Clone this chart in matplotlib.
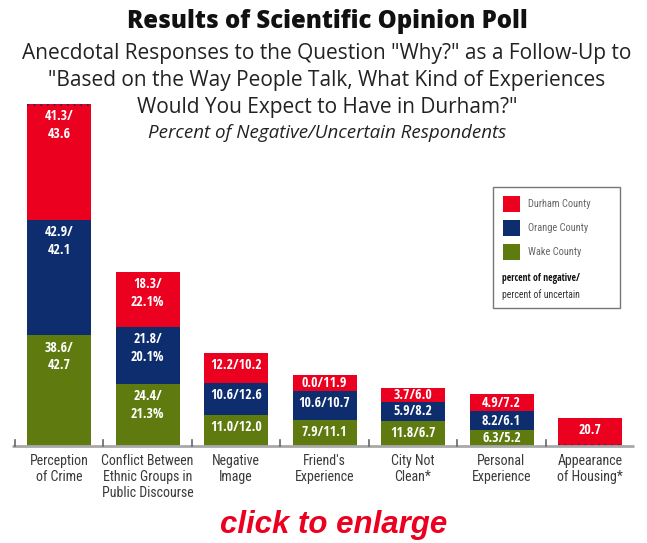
import numpy as np
import matplotlib
matplotlib.use("Agg")
import matplotlib.pyplot as plt
from matplotlib.patches import Rectangle
from matplotlib import font_manager

categories = ["Perception\nof Crime", "Conflict Between\nEthnic Groups in\nPublic Discourse",
              "Negative\nImage", "Friend's\nExperience", "City Not\nClean*",
              "Personal\nExperience", "Appearance\nof Housing*"]
series = ["Wake County", "Orange County", "Durham County"]
# percent of negative / percent of uncertain
wake_neg = [38.6, 24.4, 11.0, 7.9, 11.8, 6.3, np.nan]
wake_unc = [42.7, 21.3, 12.0, 11.1, 6.7, 5.2, np.nan]
orange_neg = [42.9, 21.8, 10.6, 10.6, 5.9, 8.2, np.nan]
orange_unc = [42.1, 20.1, 12.6, 10.7, 8.2, 6.1, np.nan]
durham_neg = [41.3, 18.3, 12.2, 0.0, 3.7, 4.9, np.nan]
durham_unc = [43.6, 22.1, 10.2, 11.9, 6.0, 7.2, 20.7]

colors = {"Durham County": "#EC0020", "Orange County": "#0E2D6E", "Wake County": "#5F7B10"}

# ---- font selection -------------------------------------------------------
ttf = font_manager.fontManager.ttflist


def is_cond(f):
    return ("Condensed" in f.name or "Narrow" in f.name
            or f.stretch in ("condensed", "semi-condensed", "extra-condensed"))


def wnum(w):
    if isinstance(w, int):
        return w
    return {"normal": 400, "regular": 400, "book": 400, "light": 300, "medium": 500,
            "bold": 700, "semibold": 600, "demibold": 600}.get(str(w).lower(), 400)


cond = [f for f in ttf if is_cond(f)]
pref = ["Liberation Sans Narrow", "DejaVu Sans Condensed", "Open Sans Condensed",
        "Roboto Condensed", "Noto Sans Condensed"]


def pick_cond(lo, hi):
    cands = [f for f in cond if lo <= wnum(f.weight) <= hi]
    names = sorted({f.name for f in cands}, key=lambda n: (pref.index(n) if n in pref else 99, n))
    return names[0] if names else None


REG_NAME = pick_cond(300, 450)
BOLD_NAME = pick_cond(600, 800)
NARROW_REG = [REG_NAME or "DejaVu Sans", "DejaVu Sans"]
NARROW_BOLD = [BOLD_NAME or "DejaVu Sans", "DejaVu Sans"]
NSTRETCH = "condensed"

W, H = 647, 543
fig = plt.figure(figsize=(W / 100, H / 100), dpi=100)


def fx(px):
    return px / W


def fy(py):
    return 1 - py / H


# axes placement
ax_l, ax_r, ax_t, ax_b = 12, 638, 100, 446
ax = fig.add_axes([fx(ax_l), fy(ax_b), (ax_r - ax_l) / W, (ax_b - ax_t) / H])
px_per_unit = 1.36
ax.set_ylim(0, (ax_b - ax_t) / px_per_unit)
spacing = 88.5
x0 = 59
ax.set_xlim((ax_l - x0) / spacing, (ax_r - x0) / spacing)
ax.axis("off")

x = np.arange(len(categories))
data = [("Wake County", wake_neg, wake_unc),
        ("Orange County", orange_neg, orange_unc),
        ("Durham County", durham_neg, durham_unc)]
bottom = np.zeros(len(categories))
u = 1 / px_per_unit
for name, neg, unc in data:
    neg = np.array(neg, dtype=float)
    unc = np.array(unc, dtype=float)
    h = np.nansum(np.vstack([neg, unc]), axis=0)
    ax.bar(x, h, bottom=bottom, width=64 / spacing, color=colors[name], edgecolor="none")
    for i in range(len(categories)):
        if h[i] <= 0:
            continue
        top = bottom[i] + h[i]
        if np.isnan(neg[i]):
            lab = f"{unc[i]:.1f}"
        elif i == 1:
            lab = f"{neg[i]:.1f}/\n{unc[i]:.1f}%"
        elif i == 0:
            lab = f"{neg[i]:.1f}/\n{unc[i]:.1f}"
        else:
            lab = f"{neg[i]:.1f}/{unc[i]:.1f}"
        if "\n" in lab:
            yt = top - 21 * u
        else:
            yt = max(top - 12 * u, bottom[i] + h[i] / 2)
        ax.text(x[i], yt, lab, ha="center", va="center", color="white",
                fontsize=10, fontweight="bold", family=NARROW_BOLD, fontstretch=NSTRETCH,
                linespacing=1.35)
    bottom = bottom + np.nan_to_num(h)

# dotted edges
ax.plot([x[0] - 0.36, x[0] + 0.36], [bottom[0] - 0.5, bottom[0] - 0.5], ls=(0, (1, 3)),
        color="#0E2D6E", lw=1.2)
ax.plot([x[6] - 0.36, x[6] + 0.36], [1.0, 1.0], ls=(0, (1, 3)), color="#0E2D6E", lw=1.2)

# baseline and separator ticks
ax.plot([(ax_l - x0) / spacing, (ax_r - x0) / spacing - 0.05], [0, 0], color="#A8A8A8",
        lw=2, clip_on=False, solid_capstyle="butt")
for k in range(len(categories)):
    ax.plot([k - 0.5, k - 0.5], [0, 6 * u], color="#666666", lw=1.2, clip_on=False)

# category labels
for i, c in enumerate(categories):
    ax.text(x[i], -8 * u, c, ha="center", va="top", fontsize=10, color="#3a3a3a",
            family=NARROW_REG, fontstretch=NSTRETCH, fontweight="normal", linespacing=1.2)

# titles
SANS = ["Open Sans", "DejaVu Sans"]
fig.text(fx(327), fy(21), "Results of Scientific Opinion Poll", ha="center", va="center",
         fontsize=17.3, fontweight=800, family=SANS, color="#111111")
sub = ["Anecdotal Responses to the Question \"Why?\" as a Follow-Up to",
       "\"Based on the Way People Talk, What Kind of Experiences",
       "Would You Expect to Have in Durham?\""]
for k, s in enumerate(sub):
    fig.text(fx(327), fy(53 + 27 * k), s, ha="center", va="center", fontsize=15,
             family=SANS, color="#222222")
fig.text(fx(327), fy(133), "Percent of Negative/Uncertain Respondents", ha="center",
         va="center", fontsize=13.5, style="italic", family=SANS, color="#222222")

# legend
fig.add_artist(Rectangle((fx(493), fy(308)), (620 - 493) / W, (308 - 187) / H,
                         transform=fig.transFigure, facecolor="white", edgecolor="#777777", lw=1))
for k, name in enumerate(["Durham County", "Orange County", "Wake County"]):
    yc = 204 + 24 * k
    fig.add_artist(Rectangle((fx(503), fy(yc + 8)), 17 / W, 16 / H, transform=fig.transFigure,
                             facecolor=colors[name], edgecolor="none"))
    fig.text(fx(528), fy(yc), name, ha="left", va="center", fontsize=7.5, color="#666666",
             family=NARROW_REG, fontstretch=NSTRETCH, fontweight="normal")
fig.text(fx(502), fy(278), "percent of negative/", ha="left", va="center", fontsize=7,
         color="#111111", fontweight="bold", family=NARROW_BOLD, fontstretch=NSTRETCH)
fig.text(fx(502), fy(295), "percent of uncertain", ha="left", va="center", fontsize=7,
         color="#333333", family=NARROW_REG, fontstretch=NSTRETCH, fontweight="normal")

fig.text(fx(334), fy(525), "click to enlarge", ha="center", va="center", fontsize=22.5,
         fontweight="bold", style="italic", color="#EC0020",
         family=["Liberation Sans", "DejaVu Sans"])

fig.savefig("out.png", dpi=100)
